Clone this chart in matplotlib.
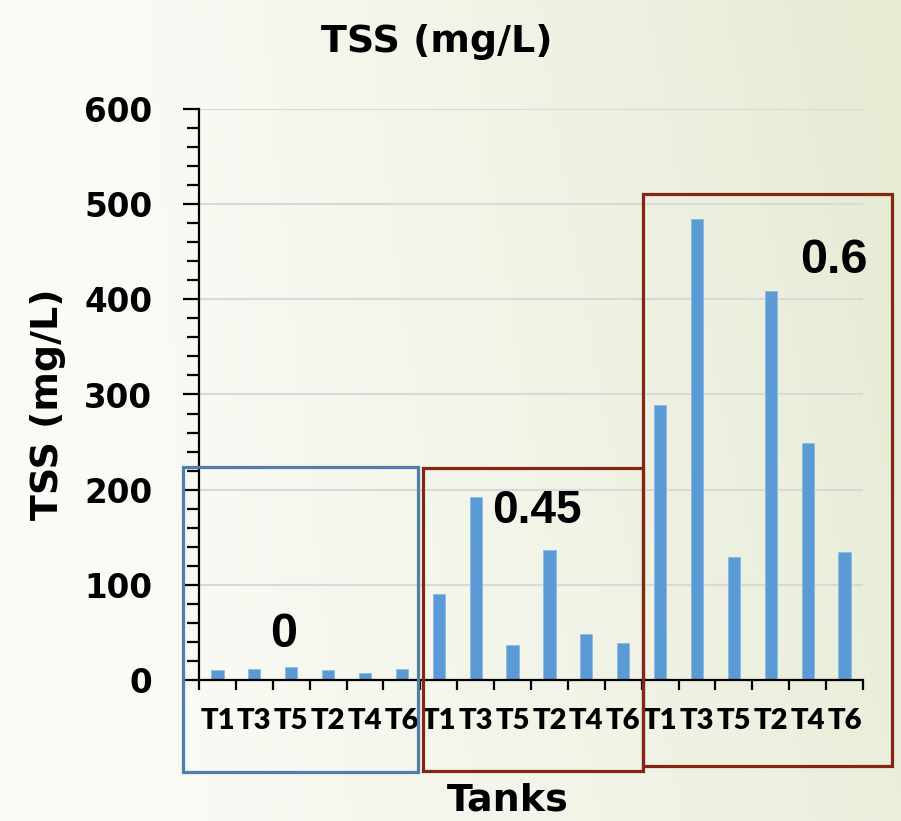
import numpy as np
import matplotlib
matplotlib.use("Agg")
import matplotlib.pyplot as plt
from matplotlib.patches import Rectangle
from matplotlib.ticker import FixedLocator, MultipleLocator

# ---- data ----
groups = ['0', '0.45', '0.6']
tanks = ['T1', 'T3', 'T5', 'T2', 'T4', 'T6']
tss_0 = [10, 12, 14, 10, 7, 12]
tss_045 = [90, 192, 37, 137, 48, 39]
tss_06 = [289, 484, 129, 409, 249, 135]
yticks = [0, 100, 200, 300, 400, 500, 600]

values = tss_0 + tss_045 + tss_06
labels = tanks * len(groups)

W, H = 901, 821
fig = plt.figure(figsize=(W / 100, H / 100), dpi=100)

def fx(x):
    return x / W

def fy(y):
    return 1 - y / H

# background gradient
bg = fig.add_axes([0, 0, 1, 1], zorder=-10)
nx, ny = 300, 100
xx, yy = np.meshgrid(np.linspace(0, 1, nx), np.linspace(0, 1, ny))
t = np.clip(0.8 * xx ** 1.3 + 0.25 * (1 - yy) * xx, 0, 1)
c0 = np.array([251, 252, 248]) / 255
c1 = np.array([230, 235, 212]) / 255
img = c0[None, None, :] * (1 - t[..., None]) + c1[None, None, :] * t[..., None]
bg.imshow(img, aspect='auto', extent=[0, 1, 0, 1], origin='upper')
bg.axis('off')

ax = fig.add_axes([fx(199), fy(680), fx(863) - fx(199), fy(109) - fy(680)])
ax.set_facecolor('none')

x = np.arange(len(values))
ax.bar(x, values, width=0.33, color='#5B9BD5', edgecolor='#8DB9E3', linewidth=0.6, zorder=3)

ax.set_xlim(-0.5, len(values) - 0.5)
ax.set_ylim(0, 600)

# grid
for v in yticks[1:]:
    ax.axhline(v, color='#D9D9D9', lw=1.5, zorder=1)

for s in ['top', 'right']:
    ax.spines[s].set_visible(False)
for s in ['left', 'bottom']:
    ax.spines[s].set_linewidth(1.6)
    ax.spines[s].set_color('black')
    ax.spines[s].set_zorder(4)

# y ticks
ax.set_yticks(yticks)
ax.set_yticklabels([str(v) for v in yticks], fontsize=23.5, fontweight='bold',
                   family='DejaVu Sans')
ax.yaxis.set_minor_locator(MultipleLocator(20))
ax.tick_params(axis='y', which='major', direction='out', length=11.5, width=1.6, pad=22)
ax.tick_params(axis='y', which='minor', direction='out', length=8.6, width=1.6)

# x ticks: boundaries (marks) and centres (labels)
ax.xaxis.set_major_locator(FixedLocator(np.arange(-0.5, len(values), 1.0)))
ax.xaxis.set_major_formatter(plt.NullFormatter())
ax.xaxis.set_minor_locator(FixedLocator(x))
ax.set_xticklabels(labels, minor=True, fontsize=21, fontweight='heavy',
                   family=['Lato', 'DejaVu Sans'])
ax.tick_params(axis='x', which='major', direction='out', length=7.2, width=1.6)
ax.tick_params(axis='x', which='minor', length=0, pad=20)

# titles
fig.text(fx(437), fy(52), 'TSS (mg/L)', ha='center', va='baseline',
         fontsize=27.4, fontweight='bold', family='DejaVu Sans')
fig.text(fx(48), fy(404), 'TSS (mg/L)', ha='center', va='center', rotation=90,
         fontsize=27.4, fontweight='bold', family='DejaVu Sans')
fig.text(fx(508), fy(810), 'Tanks', ha='center', va='baseline',
         fontsize=27.4, fontweight='bold', family='DejaVu Sans')

# group labels
fig.text(fx(283.5), fy(647), groups[0], ha='center', va='baseline',
         fontsize=35, fontweight='bold', family='Liberation Sans')
fig.text(fx(537), fy(523), groups[1], ha='center', va='baseline',
         fontsize=33, fontweight='bold', family='Liberation Sans')
fig.text(fx(834), fy(273), groups[2], ha='center', va='baseline',
         fontsize=35, fontweight='bold', family='Liberation Sans')

# group boxes
boxes = [((183, 467), (418, 772), '#4F7DAE'),
         ((423, 468), (643, 771), '#832612'),
         ((643, 194), (892, 766), '#832612')]
for (x0, y0), (x1, y1), col in boxes:
    r = Rectangle((fx(x0), fy(y1)), fx(x1) - fx(x0), fy(y0) - fy(y1),
                  transform=fig.transFigure, fill=False, edgecolor=col,
                  linewidth=2.3, zorder=10)
    fig.add_artist(r)

fig.savefig('out.png', dpi=100)
